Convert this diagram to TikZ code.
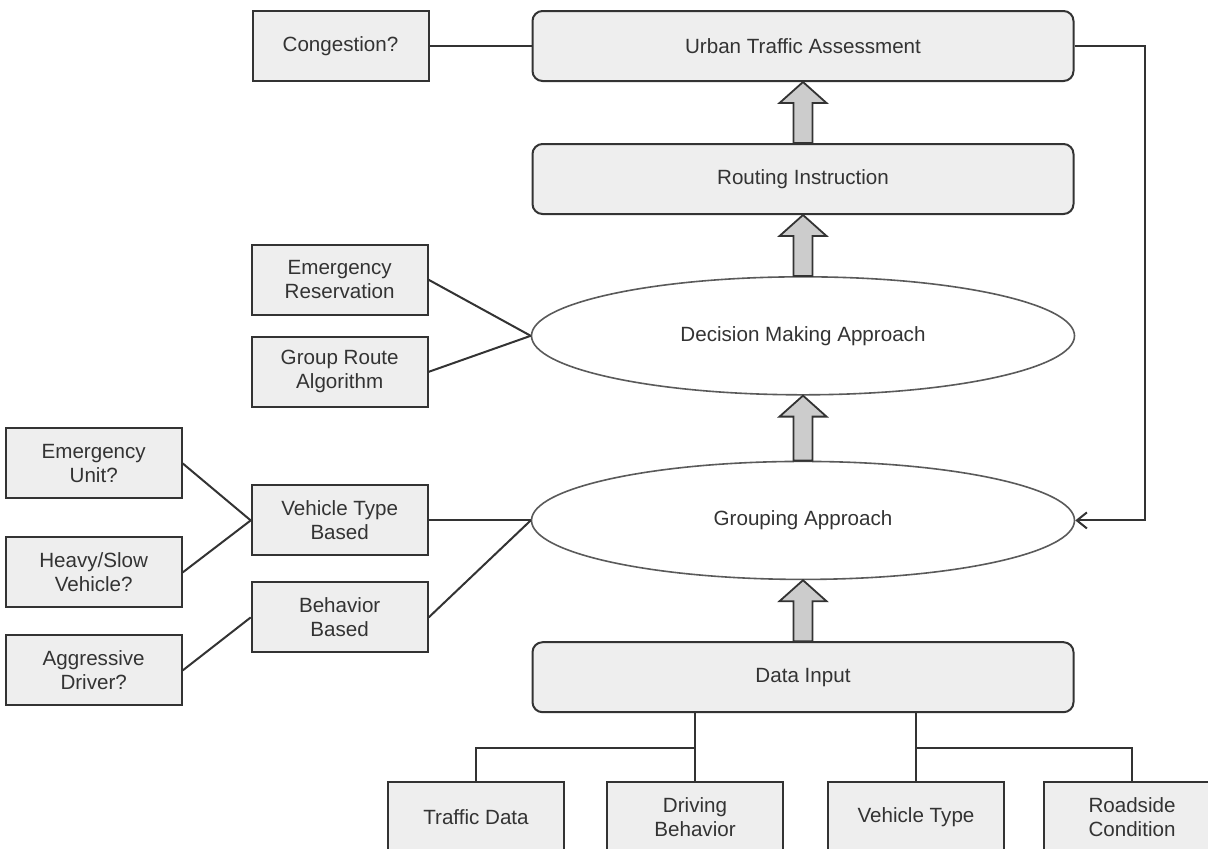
\documentclass[tikz,border=0pt]{standalone}
\usepackage{fontspec}
\setmainfont{Liberation Sans}
\usetikzlibrary{arrows.meta, positioning, shapes.geometric, calc}

\definecolor{boxfill}{HTML}{EEEEEE}
\definecolor{boxline}{HTML}{333333}
\definecolor{arrfill}{HTML}{CCCCCC}
\definecolor{ovalline}{HTML}{5A5A5A}

% hollow block arrow from node #1 up to node #2
\newcommand\fatarrow[2]{%
  \draw[fat] let \p1=(#1.north), \p2=(#2.south) in
    (\x1-4.75pt,\y1) -- (\x1-4.75pt,\y2-10.5pt) -- (\x1-11.75pt,\y2-10.5pt) -- (\x1,\y2)
    -- (\x1+11.75pt,\y2-10.5pt) -- (\x1+4.75pt,\y2-10.5pt) -- (\x1+4.75pt,\y1) -- cycle;}

\begin{document}
\begin{tikzpicture}
[font=\fontsize{10.3}{12}\selectfont, text=boxline,
   box/.style={shape=rectangle, draw=boxline, line width=1pt, fill=boxfill,
     minimum width=88pt, minimum height=35pt, align=center, inner sep=2pt},
   mainbox/.style={box, rounded corners=5pt, minimum width=270.5pt},
   oval/.style={shape=ellipse, draw=ovalline, line width=0.8pt, fill=white,
     minimum width=271.5pt, minimum height=59pt, inner sep=0pt},
   link/.style={draw=boxline, line width=1pt},
   fat/.style={draw=boxline, line width=0.9pt, fill=arrfill, line join=miter},
   back/.style={link, arrows={-Straight Barb[length=5pt,width=8pt]}}]
\useasboundingbox (0,0) rectangle (604pt,-424pt);
% main column
\node[mainbox] (uta) at (401.5pt,-23pt) {Urban Traffic Assessment};
\node[mainbox] (route) [below=30.5pt of uta] {Routing Instruction};
\node[oval] (decide) [below=30.5pt of route] {Decision Making Approach};
\node[oval] (group) [below=32.5pt of decide] {Grouping Approach};
\node[mainbox] (data) [below=30.5pt of group] {Data Input};
% side boxes
\node[box] (cong) [left=51pt of uta] {Congestion?};
\node[box] (emres) [above left=10pt and 51pt of decide.west] {Emergency\\Reservation};
\node[box] (grpalg) [below left=0pt and 51pt of decide.west] {Group Route\\Algorithm};
\node[box] (vtb) [left=51pt of group] {Vehicle Type\\Based};
\node[box] (bhb) [below=12.5pt of vtb] {Behavior\\Based};
\node[box] (emunit) [left=34pt of vtb, yshift=28.5pt] {Emergency\\Unit?};
\node[box] (heavy) [below=18.5pt of emunit] {Heavy/Slow\\Vehicle?};
\node[box] (aggr) [below=13pt of heavy] {Aggressive\\Driver?};
% inputs
\node[box] (drive) [below=34pt of data, xshift=-54pt] {Driving\\Behavior};
\node[box] (traffic) [left=20.5pt of drive] {Traffic Data};
\node[box] (vtype) [right=21.5pt of drive] {Vehicle Type};
\node[box] (road) [right=19pt of vtype] {Roadside\\Condition};
% block arrows
\fatarrow{route}{uta}
\fatarrow{decide}{route}
\fatarrow{group}{decide}
\fatarrow{data}{group}
% plain links
\draw[link] (cong) -- (uta);
\draw[link] (emres.east) -- (decide.west);
\draw[link] (grpalg.east) -- (decide.west);
\draw[link] (emunit.east) -- (vtb.west);
\draw[link] (heavy.east) -- (vtb.west);
\draw[link] (aggr.east) -- (bhb.west);
\draw[link] (vtb.east) -- (group.west);
\draw[link] (bhb.east) -- (group.west);
\draw[link] (drive.north |- data.south) -- (drive.north);
\draw[link] (traffic.north) |- ([yshift=16.5pt]drive.north);
\draw[link] (vtype.north |- data.south) -- (vtype.north);
\draw[link] (road.north) |- ([yshift=16.5pt]vtype.north);
\draw[back] (uta.east) -- ++(35pt,0) |- (group.east);
\end{tikzpicture}
\end{document}
